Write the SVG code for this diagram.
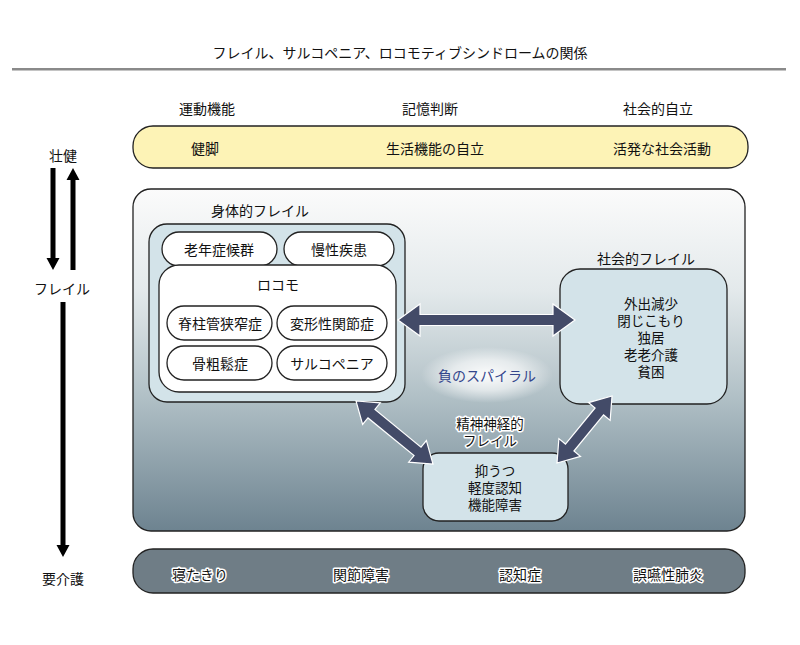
<svg xmlns="http://www.w3.org/2000/svg" width="800" height="645" viewBox="0 0 800 645">
<style>
text{font-family:"Noto Sans CJK JP","Noto Sans",sans-serif;fill:#111;text-anchor:middle;dominant-baseline:central}
.t14{font-size:14px}
.t13{font-size:13.5px}
.halo{paint-order:stroke;stroke:#fff;stroke-width:3px;stroke-linejoin:round}
.box{stroke:#222;stroke-width:1.3}
.pill{fill:#fff;stroke:#222;stroke-width:1.3}
.lb{fill:#d3e3e9}
.arr{fill:#434b68;stroke:#fff;stroke-width:1.2;stroke-linejoin:miter}
.blk{fill:#000}
</style>
<defs>
<linearGradient id="bg" x1="0" y1="0" x2="0" y2="1">
<stop offset="0" stop-color="#fbfbfb"/>
<stop offset="0.3" stop-color="#e3e9eb"/>
<stop offset="0.6" stop-color="#b2c1c7"/>
<stop offset="1" stop-color="#6d8390"/>
</linearGradient>
<radialGradient id="glow" cx="0.5" cy="0.5" r="0.5">
<stop offset="0" stop-color="#fff" stop-opacity="0.95"/>
<stop offset="0.55" stop-color="#fff" stop-opacity="0.6"/>
<stop offset="1" stop-color="#fff" stop-opacity="0"/>
</radialGradient>
</defs>
<rect width="800" height="645" fill="#fff"/>
<g id="title">
<text class="t14" x="400" y="52">フレイル、サルコペニア、ロコモティブシンドロームの関係</text>
<rect x="12" y="68" width="774" height="2.5" fill="#8a8a8a"/>
</g>
<g id="headers">
<text class="t14" x="207" y="108">運動機能</text>
<text class="t14" x="430" y="108">記憶判断</text>
<text class="t14" x="658" y="108">社会的自立</text>
</g>
<g id="top-bar">
<rect class="box" x="133" y="126" width="615" height="42" rx="20" fill="#fdf3b6"/>
<text class="t14" x="205" y="148">健脚</text>
<text class="t14" x="435" y="148">生活機能の自立</text>
<text class="t14" x="662" y="148">活発な社会活動</text>
</g>
<g id="left-scale">
<text class="t14" x="63" y="155">壮健</text>
<text class="t14" x="62" y="288">フレイル</text>
<text class="t14" x="63" y="578">要介護</text>
</g>
<g id="main-box">
<rect class="box" x="133" y="189" width="612" height="342" rx="18" fill="url(#bg)"/>
<ellipse cx="487" cy="375" rx="66" ry="28" fill="url(#glow)"/>
</g>
<g id="physical-frailty">
<text class="t14" x="260" y="210">身体的フレイル</text>
<rect class="box lb" x="149" y="224" width="256" height="178" rx="18"/>
<g id="geriatric"><rect class="pill" x="162" y="232" width="115" height="34" rx="17"/><text class="t14" x="219" y="249">老年症候群</text></g>
<g id="chronic"><rect class="pill" x="284" y="232" width="110" height="34" rx="17"/><text class="t14" x="339" y="249">慢性疾患</text></g>
<g id="locomo">
<rect class="pill" x="159" y="265" width="237" height="127" rx="20"/>
<text class="t14" x="278" y="284">ロコモ</text>
</g>
<g id="stenosis"><rect class="pill" x="167" y="306" width="105" height="34" rx="17"/><text class="t14" x="220" y="323">脊柱管狭窄症</text></g>
<g id="oa"><rect class="pill" x="277" y="306" width="110" height="34" rx="17"/><text class="t14" x="332" y="323">変形性関節症</text></g>
<g id="osteo"><rect class="pill" x="167" y="346" width="105" height="34" rx="17"/><text class="t14" x="220" y="363">骨粗鬆症</text></g>
<g id="sarco"><rect class="pill" x="277" y="346" width="110" height="34" rx="17"/><text class="t14" x="332" y="363">サルコペニア</text></g>
</g>
<g id="social-frailty">
<text class="t14" x="646" y="258">社会的フレイル</text>
<rect class="box lb" x="560" y="269" width="167" height="135" rx="20"/>
<text class="t13" x="651" y="303"><tspan x="651" y="303">外出減少</tspan><tspan x="651" dy="17">閉じこもり</tspan><tspan x="651" dy="17">独居</tspan><tspan x="651" dy="17">老老介護</tspan><tspan x="651" dy="17">貧困</tspan></text>
</g>
<g id="spiral">
<text class="t14" x="487" y="375" style="fill:#34468c">負のスパイラル</text>
</g>
<g id="mental-frailty">
<text class="t13 halo" x="490" y="423"><tspan x="490" y="423">精神神経的</tspan><tspan x="490" dy="17">フレイル</tspan></text>
<rect class="box lb" x="423" y="453" width="145" height="68" rx="16"/>
<text class="t13" x="495" y="470"><tspan x="495" y="470">抑うつ</tspan><tspan x="495" dy="17">軽度認知</tspan><tspan x="495" dy="17">機能障害</tspan></text>
</g>
<g id="bottom-bar">
<rect class="box" x="133" y="549" width="612" height="44" rx="20" fill="#6f7d86"/>
<text class="t14 halo" x="200" y="574">寝たきり</text>
<text class="t14 halo" x="361" y="574">関節障害</text>
<text class="t14 halo" x="520" y="574">認知症</text>
<text class="t14 halo" x="668" y="574">誤嚥性肺炎</text>
</g>
<g id="connectors">
<polygon class="arr" transform="translate(398,320)" points="0,0 22,-16 22,-5.5 155,-5.5 155,-16 177,0 155,16 155,5.5 22,5.5 22,16"/>
<polygon class="arr" transform="translate(356,401) rotate(39.3)" points="0,0 20,-14 20,-5.5 79.5,-5.5 79.5,-14 99.5,0 79.5,14 79.5,5.5 20,5.5 20,14"/>
<polygon class="arr" transform="translate(557,463) rotate(-50.6)" points="0,0 20,-14 20,-5.5 66.7,-5.5 66.7,-14 86.7,0 66.7,14 66.7,5.5 20,5.5 20,14"/>
<polygon class="blk" points="50.5,168 55.5,168 55.5,258 59.5,258 53,270 46.5,258 50.5,258"/>
<polygon class="blk" points="70.5,270 75.5,270 75.5,180 79.5,180 73,168 66.5,180 70.5,180"/>
<polygon class="blk" points="60.5,302 65.5,302 65.5,545 69.5,545 63,557 56.5,545 60.5,545"/>
</g>
</svg>
